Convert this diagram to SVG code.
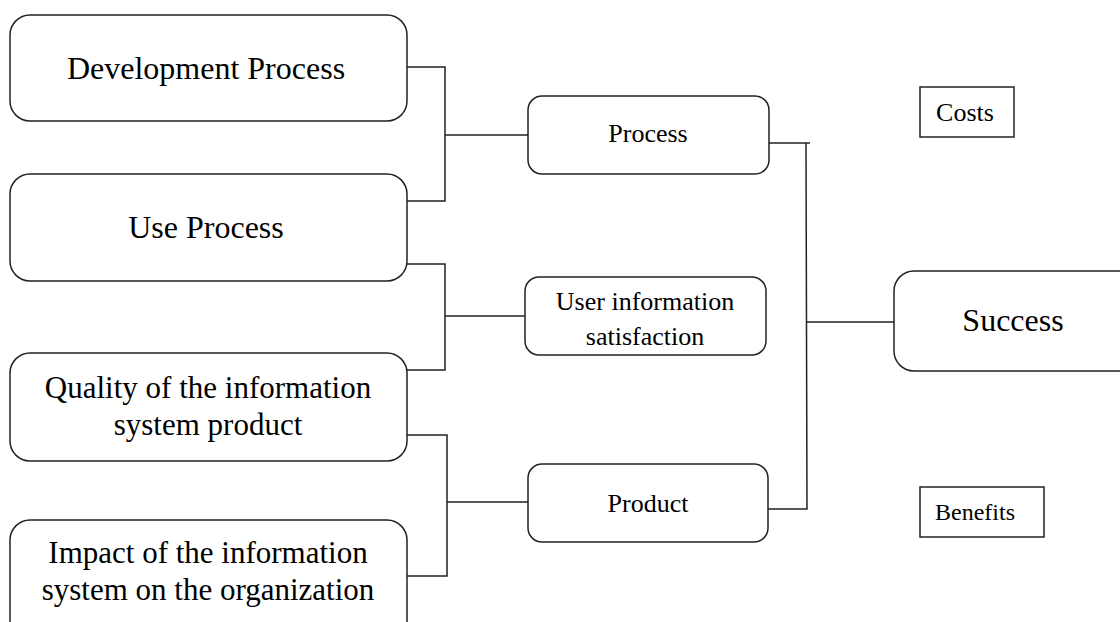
<svg xmlns="http://www.w3.org/2000/svg" width="1120" height="622" viewBox="0 0 1120 622">
<style>
.box{fill:#fff;stroke:#222;stroke-width:1.5}
.sq{fill:#fff;stroke:#222;stroke-width:1.5}
.t{font-family:"Liberation Serif","Times New Roman",serif;fill:#000;text-anchor:middle}
.big{font-size:32px}
.two{font-size:31px}
.mid{font-size:26px}
.sm{font-size:24px}
.c{fill:none;stroke:#222;stroke-width:1.5}
</style>
<rect width="1120" height="622" fill="#fff"/>
<g id="connectors">
<polyline class="c" points="407,67 445,67 445,201 407,201"/>
<line class="c" x1="445" y1="135" x2="528" y2="135"/>
<polyline class="c" points="407,264 445,264 445,370 407,370"/>
<line class="c" x1="445" y1="316" x2="525" y2="316"/>
<polyline class="c" points="407,435 447,435 447,576 407,576"/>
<line class="c" x1="447" y1="502" x2="528" y2="502"/>
<polyline class="c" points="769,143 810,143"/>
<polyline class="c" points="806,143 807,509 768,509"/>
<line class="c" x1="807" y1="322" x2="894" y2="322"/>
</g>
<g id="dev">
<rect class="box" x="10" y="15" width="397" height="106" rx="20"/>
<text class="t big" x="206" y="79">Development Process</text>
</g>
<g id="use">
<rect class="box" x="10" y="174" width="397" height="107" rx="20"/>
<text class="t big" x="206" y="238">Use Process</text>
</g>
<g id="quality">
<rect class="box" x="10" y="353" width="397" height="108" rx="20"/>
<text class="t two" x="208" y="398">Quality of the information</text>
<text class="t two" x="208" y="435">system product</text>
</g>
<g id="impact">
<rect class="box" x="10" y="520" width="397" height="130" rx="20"/>
<text class="t two" x="208" y="563">Impact of the information</text>
<text class="t two" x="208" y="600">system on the organization</text>
</g>
<g id="process">
<rect class="box" x="528" y="96" width="241" height="78" rx="14"/>
<text class="t mid" x="648" y="142">Process</text>
</g>
<g id="userinfo">
<rect class="box" x="525" y="277" width="241" height="78" rx="14"/>
<text class="t mid" x="645" y="310">User information</text>
<text class="t mid" x="645" y="345">satisfaction</text>
</g>
<g id="product">
<rect class="box" x="528" y="464" width="240" height="78" rx="14"/>
<text class="t mid" x="648" y="512">Product</text>
</g>
<g id="success">
<rect class="box" x="894" y="271" width="250" height="100" rx="20"/>
<text class="t big" x="1013" y="331">Success</text>
</g>
<g id="costs">
<rect class="sq" x="920" y="87" width="94" height="50"/>
<text class="t mid" x="965" y="121">Costs</text>
</g>
<g id="benefits">
<rect class="sq" x="920" y="487" width="124" height="50"/>
<text class="t sm" x="975" y="520">Benefits</text>
</g>
</svg>
